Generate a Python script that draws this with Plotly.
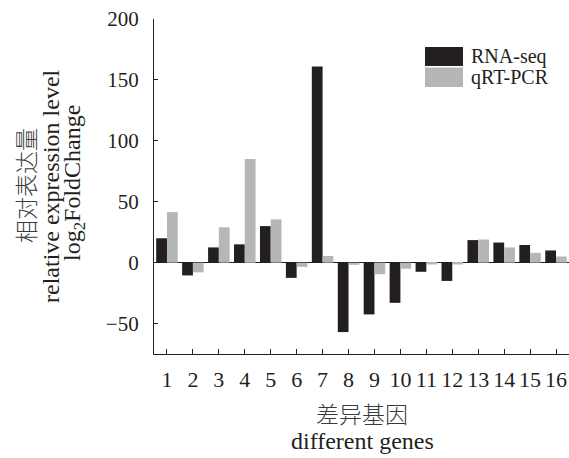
import plotly.graph_objects as go

genes = [str(i) for i in range(1, 17)]
rna_seq = [20, -10.5, 12.5, 15, 30, -12.5, 161, -57, -42.5, -33, -7.5, -15, 18.5, 16.5, 14.5, 10]
qrt_pcr = [41.5, -8, 29, 85, 35.5, -3.5, 5.5, -1.8, -9.5, -5, -1.5, -1.5, 19, 12.5, 8, 5]
y_ticks = [-50, 0, 50, 100, 150, 200]
series_names = ["RNA-seq", "qRT-PCR"]

BLACK = "#231f20"
GRAY = "#b5b6b8"
FONT = "Liberation Serif, Noto Sans CJK SC"

W, H = 569, 458
L, R, T, B = 154, 0, 19, 104
PW, PH = W - L - R, H - T - B


def px(x):
    return (x - L) / PW


def py(y):
    return (H - B - y) / PH


fig = go.Figure()
fig.add_trace(go.Bar(x=list(range(1, 17)), y=rna_seq, name=series_names[0],
                     marker=dict(color=BLACK, line=dict(width=0)), showlegend=False))
fig.add_trace(go.Bar(x=list(range(1, 17)), y=qrt_pcr, name=series_names[1],
                     marker=dict(color=GRAY, line=dict(width=0)), showlegend=False))

fig.update_layout(
    width=W, height=H,
    margin=dict(l=L, r=R, t=T, b=B),
    paper_bgcolor="white", plot_bgcolor="white",
    barmode="group", bargap=0.17, bargroupgap=0,
    font=dict(family=FONT, color="#231f20", size=21),
    showlegend=False,
)
fig.update_xaxes(
    range=[0.5, 16.5], tickmode="array", tickvals=list(range(1, 17)), ticktext=genes,
    showline=True, linecolor=BLACK, linewidth=1.3, mirror=False,
    ticks="inside", ticklen=5, tickwidth=1, tickcolor=BLACK,
    showgrid=False, zeroline=False, tickfont=dict(size=22), ticklabelstandoff=5,
)
fig.update_yaxes(
    range=[-75, 200], tickmode="array", tickvals=y_ticks,
    ticktext=[("\u2212" + str(-v)) if v < 0 else str(v) for v in y_ticks],
    showline=True, linecolor=BLACK, linewidth=1.3,
    ticks="inside", ticklen=4, tickwidth=1, tickcolor=BLACK,
    showgrid=False, zeroline=True, zerolinecolor=BLACK, zerolinewidth=1.3,
    tickfont=dict(size=21), ticklabelstandoff=10,
)

# legend drawn as boxes + labels
shapes = [
    dict(type="rect", xref="paper", yref="paper", x0=px(425), x1=px(463), y0=py(66), y1=py(47),
         fillcolor=BLACK, line=dict(width=0)),
    dict(type="rect", xref="paper", yref="paper", x0=px(425), x1=px(463), y0=py(87), y1=py(67.5),
         fillcolor=GRAY, line=dict(width=0)),
]
ann = [
    dict(text=series_names[0], x=px(469), y=py(56), xanchor="left", yanchor="middle", font=dict(size=20)),
    dict(text=series_names[1], x=px(469), y=py(77), xanchor="left", yanchor="middle", font=dict(size=20)),
    # y title lines
    dict(text="相对表达量", x=px(27), y=py(186), textangle=-90, xanchor="center", yanchor="middle",
         font=dict(size=23, weight=300, color="#3a3a3a")),
    dict(text="relative expression level", x=px(51), y=py(186), textangle=-90, xanchor="center", yanchor="middle", font=dict(size=24)),
    dict(text="log<sub>2</sub>FoldChange", x=px(74), y=py(183), textangle=-90, xanchor="center", yanchor="middle", font=dict(size=24)),
    # x title lines
    dict(text="差异基因", x=px(362), y=py(415), xanchor="center", yanchor="middle",
         font=dict(size=23, weight=300, color="#3a3a3a")),
    dict(text="different genes", x=px(362), y=py(441), xanchor="center", yanchor="middle", font=dict(size=24)),
]
for a in ann:
    a.update(xref="paper", yref="paper", showarrow=False)
fig.update_layout(shapes=shapes, annotations=ann)

fig.write_html("out.html")
